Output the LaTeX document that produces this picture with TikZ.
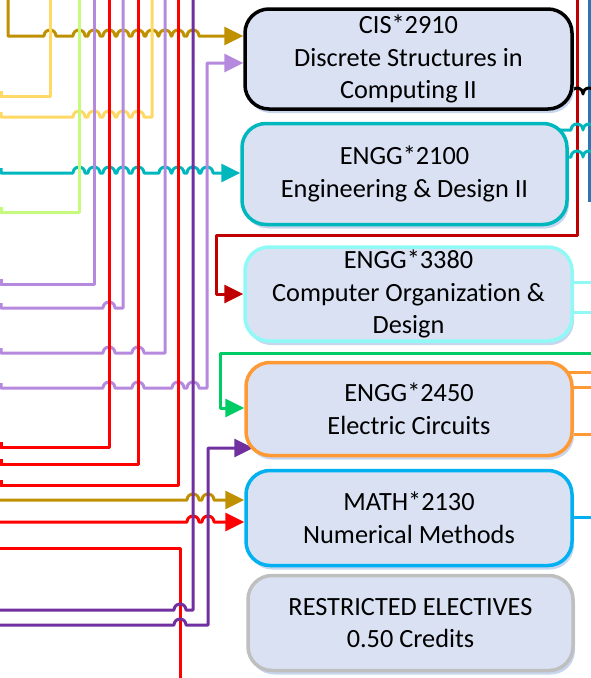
\documentclass[tikz,border=0pt]{standalone}
\usepackage{fontspec}
\setmainfont{Carlito}[Ligatures=NoCommon]
\usetikzlibrary{arrows.meta,shadows,backgrounds,calc}

\definecolor{boxfill}{RGB}{218,225,243}
\definecolor{boxshade}{RGB}{200,213,238}
\definecolor{goldc}{RGB}{191,144,0}
\definecolor{yellowc}{RGB}{255,217,102}
\definecolor{limec}{RGB}{197,250,125}
\definecolor{lilac}{RGB}{181,137,221}
\definecolor{plum}{RGB}{112,48,160}
\definecolor{redc}{RGB}{255,0,0}
\definecolor{darkredc}{RGB}{192,0,0}
\definecolor{tealc}{RGB}{0,183,190}
\definecolor{aquac}{RGB}{143,250,245}
\definecolor{orangec}{RGB}{255,153,51}
\definecolor{skyc}{RGB}{0,176,240}
\definecolor{greyc}{RGB}{191,191,191}
\definecolor{bluec}{RGB}{46,117,182}
\definecolor{greenc}{RGB}{0,204,102}

\tikzset{
  course/.style={draw, fill=boxfill, rounded corners=24pt, line width=3.5pt,
    align=center, inner sep=0pt, font=\fontsize{26.3pt}{32.5pt}\selectfont,
    drop shadow={shadow xshift=2pt, shadow yshift=-4pt, fill=boxshade, opacity=1}},
  link/.style={line width=3pt, line join=round},
  arrowin/.style={-{Triangle[length=19pt,width=18pt]}},
}

\begin{document}
\begin{tikzpicture}[x=1pt,y=-1pt]
\useasboundingbox (0,0) rectangle (591,678);

% courses
\node[course, draw=black, minimum width=327pt, minimum height=100pt] (cis2910) at (408.5,59) {CIS*2910\\Discrete Structures in\\Computing II};
\node[course, draw=tealc, minimum width=325pt, minimum height=101pt] (engg2100) at (404.5,174) {ENGG*2100\\Engineering \& Design II};
\node[course, draw=aquac, minimum width=327pt, minimum height=94pt] (engg3380) at (408.5,294) {ENGG*3380\\Computer Organization \&\\Design};
\node[course, draw=orangec, minimum width=326pt, minimum height=93pt] (engg2450) at (409,409) {ENGG*2450\\Electric Circuits};
\node[course, draw=skyc, minimum width=326pt, minimum height=95pt] (math2130) at (409,518) {MATH*2130\\Numerical Methods};
\node[course, draw=greyc, minimum width=325pt, minimum height=95pt] (electives) at (410.5,623) {RESTRICTED ELECTIVES\\0.50 Credits};

\begin{scope}[on background layer={link}]
% prerequisites coming in from the left
\draw[goldc, arrowin] (8,0) -- (8,36) \foreach \h in {50,79,94,109,123,138,152,165,178,193} { -- (\h-6,36) arc[start angle=180, end angle=0, radius=6pt] } -- (cis2910.west |- 0,36);
\draw[yellowc] (1,91) |- (50,96) -- (50,0);
\draw[yellowc] (1,112) |- (20,117) \foreach \h in {79,94,109,123,138} { -- (\h-6,117) arc[start angle=180, end angle=0, radius=6pt] } -- (152,117) -- (152,0);
\draw[tealc, arrowin] (1,168) |- (20,173) \foreach \h in {79,94,109,123,138,165,178,193,207} { -- (\h-6,173) arc[start angle=180, end angle=0, radius=6pt] } -- (engg2100.west |- 0,173);
\draw[limec] (1,207) |- (79,212) -- (79,0);
\draw[lilac] (1,279) |- (94,284) -- (94,0);
\draw[lilac] (1,303) |- (20,308) \foreach \h in {109} { -- (\h-6,308) arc[start angle=180, end angle=0, radius=6pt] } -- (123,308) -- (123,0);
\draw[lilac] (1,348) |- (20,353) \foreach \h in {109,138} { -- (\h-6,353) arc[start angle=180, end angle=0, radius=6pt] } -- (165,353) -- (165,0);
\draw[lilac, arrowin] (1,383) |- (20,388) \foreach \h in {109,138,178,193} { -- (\h-6,388) arc[start angle=180, end angle=0, radius=6pt] } -- (207,388) -- (207,63) -- (cis2910.west |- 0,63);
\draw[redc] (1,442) |- (109,447) -- (109,0);
\draw[redc] (1,459) |- (138,464) -- (138,0);
\draw[redc] (1,480) |- (178,485) -- (178,0);
\draw[goldc, arrowin] (0,500) \foreach \h in {193,208} { -- (\h-6,500) arc[start angle=180, end angle=0, radius=6pt] } -- (math2130.west |- 0,500);
\draw[redc, arrowin] (0,522) \foreach \h in {193,208} { -- (\h-6,522) arc[start angle=180, end angle=0, radius=6pt] } -- (math2130.west |- 0,522);
\draw[redc] (0,548) -- (180,548) -- (180,678);
\draw[plum] (0,610) \foreach \h in {180} { -- (\h-6,610) arc[start angle=180, end angle=0, radius=6pt] } -- (193,610) -- (193,0);
\draw[plum, arrowin] (0,625) \foreach \h in {180} { -- (\h-6,625) arc[start angle=180, end angle=0, radius=6pt] } -- (208,625) -- (208,448) -- ($(engg2450.west)+(9,39)$);
\draw[darkredc, arrowin] (577,0) -- (577,235) -- (216,235) -- (216,294) -- (engg3380.west |- 0,294);
\draw[greenc, arrowin] (591,353) -- (220,353) -- (220,408) -- (engg2450.west |- 0,408);

% going out to the right
\draw[bluec] (589,0) -- (589,202);
\draw[black] (cis2910.center |- 0,94) \foreach \h in {577,589} { -- (\h-6,94) arc[start angle=180, end angle=0, radius=6pt] } -- (600,94);
\draw[tealc] (engg2100.center |- 0,130) \foreach \h in {577,589} { -- (\h-6,130) arc[start angle=180, end angle=0, radius=6pt] } -- (600,130);
\draw[tealc] (engg2100.center |- 0,157) \foreach \h in {577,589} { -- (\h-6,157) arc[start angle=180, end angle=0, radius=6pt] } -- (600,157);
\draw[aquac] (engg3380.center |- 0,282) -- (591,282);
\draw[aquac] (engg3380.center |- 0,312) -- (591,312);
\draw[orangec] (engg2450.center |- 0,372) -- (591,372);
\draw[orangec] (engg2450.center |- 0,387) -- (591,387);
\draw[orangec] (engg2450.center |- 0,434) -- (591,434);
\draw[skyc] (math2130.center |- 0,517) -- (591,517);
\end{scope}

\end{tikzpicture}
\end{document}
